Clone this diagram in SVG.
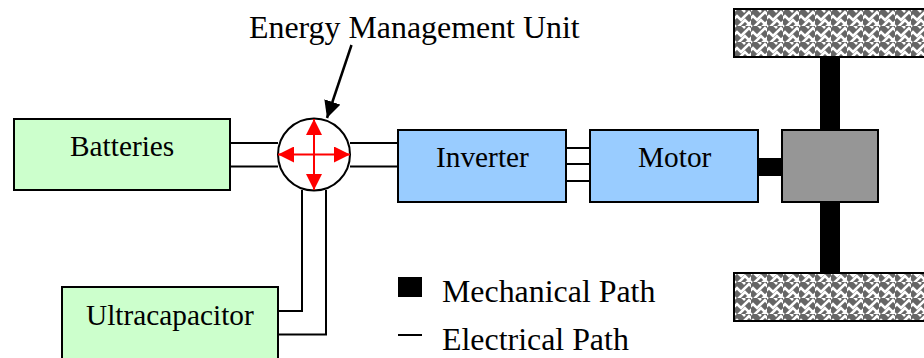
<svg xmlns="http://www.w3.org/2000/svg" width="924" height="358" viewBox="0 0 924 358">
<style>
text{font-family:"Liberation Serif","Times New Roman",serif;font-size:29.330px;fill:#000}
.l{font-size:31.900px}
.b{stroke:#000;stroke-width:2;}
.g{fill:#ccffcc}.u{fill:#99ccff}
.w{fill:none;stroke:#000;stroke-width:2}
.m{fill:#000}
.r{stroke:#f00;stroke-width:2;fill:none}
.t{fill:url(#weave);stroke:#000;stroke-width:2}
</style>
<defs>
<pattern id="weave" width="16" height="16" patternUnits="userSpaceOnUse" x="735" y="10">
<rect width="16" height="16" fill="#666"/>
<path d="M-2 2L2 -2M-2 10L2 6L6 10L14 2L18 6M6 -2L10 2M2 18L10 10L18 18M-2 14L2 18M10 18L18 10" fill="none" stroke="#fff" stroke-width="2.600"/>
</pattern>
<marker id="ra" viewBox="0 0 16 16" refX="16" refY="8" markerWidth="16" markerHeight="16" markerUnits="userSpaceOnUse" orient="auto"><path d="M0 0L16 8L0 16Z" fill="#f00"/></marker>
<marker id="ka" viewBox="0 0 17 17" refX="17" refY="8.500" markerWidth="17" markerHeight="17" markerUnits="userSpaceOnUse" orient="auto"><path d="M0 0L17 8.500L0 17Z" fill="#000"/></marker>
</defs>
<g id="connectors">
<path class="w" d="M230 143H278M230 166.500H278M350 143H398M350 166.500H398M302 190V311H278M326 190V334.500H278M566 148H590M566 164H590M566 181H590"/>
<rect class="m" x="820" y="57" width="20" height="73"/>
<rect class="m" x="820" y="202" width="20" height="71"/>
<rect class="m" x="758" y="158" width="24" height="18"/>
<path class="w" d="M351.500 45L327 118" marker-end="url(#ka)" style="stroke-width:2.500"/>
</g>
<g id="batteries"><rect class="b g" x="14" y="119" width="216" height="71"/><text x="70" y="156">Batteries</text></g>
<g id="ultracapacitor"><rect class="b g" x="62" y="287" width="216" height="80"/><text x="86" y="325">Ultracapacitor</text></g>
<g id="inverter"><rect class="b u" x="398" y="130" width="168" height="72"/><text x="436" y="167">Inverter</text></g>
<g id="motor"><rect class="b u" x="590" y="130" width="168" height="72"/><text x="638" y="167">Motor</text></g>
<g id="energy-unit"><circle cx="314" cy="154.500" r="36" fill="#fff" stroke="#000" stroke-width="2"/>
<path class="r" d="M314 154.500V119" marker-end="url(#ra)"/><path class="r" d="M314 154.500V190" marker-end="url(#ra)"/><path class="r" d="M314 154.500H278" marker-end="url(#ra)"/><path class="r" d="M314 154.500H350" marker-end="url(#ra)"/>
</g>
<g id="energy-label"><text class="l" x="249" y="38">Energy Management Unit</text></g>
<g id="gearbox"><rect class="b" x="782" y="130" width="96" height="72" fill="#969696"/></g>
<g id="wheel-top"><rect class="t" x="734" y="9" width="196" height="48"/></g>
<g id="wheel-bottom"><rect class="t" x="734" y="273" width="196" height="48"/></g>
<g id="legend"><rect class="m" x="398" y="277" width="24" height="20"/><path class="w" d="M398 335H422"/><text class="l" x="442" y="302">Mechanical Path</text><text class="l" x="442" y="350">Electrical Path</text></g>
</svg>
